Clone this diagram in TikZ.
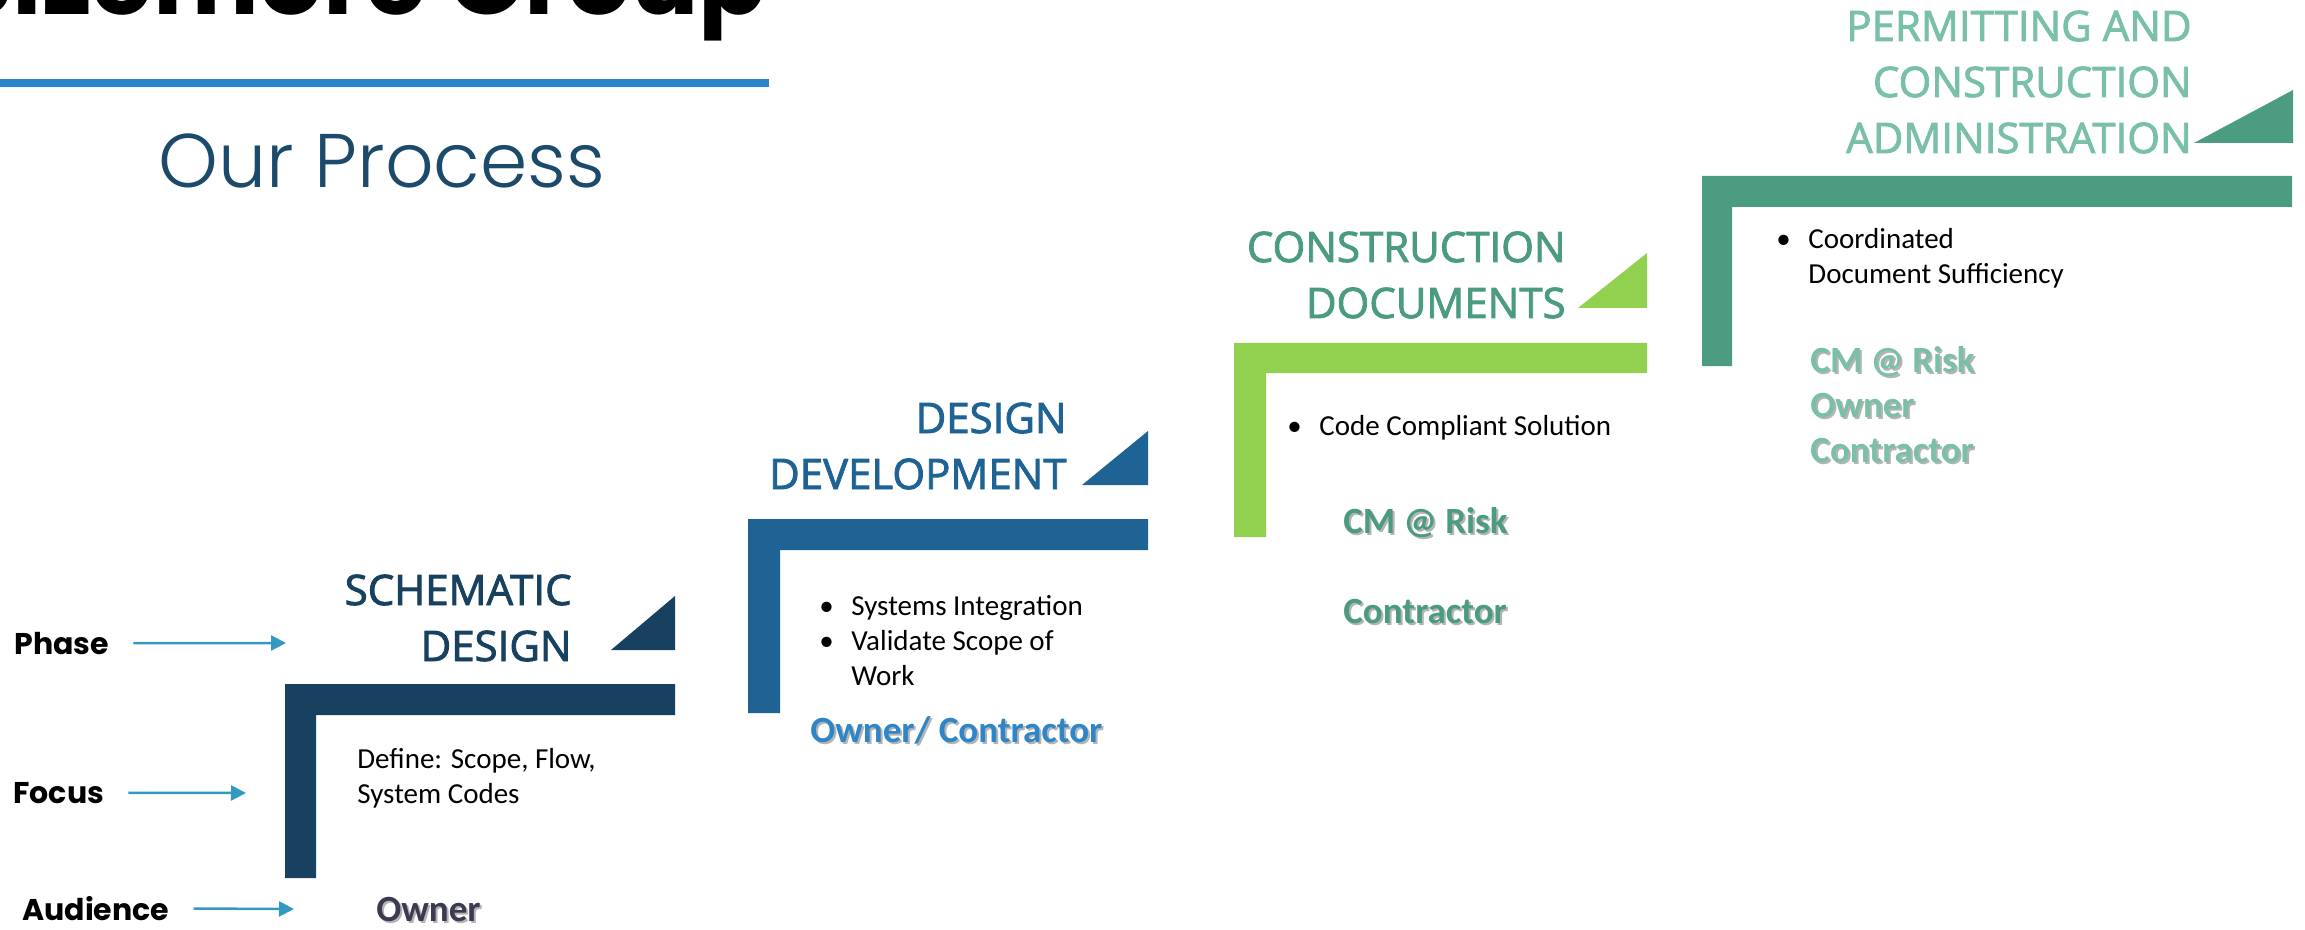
\documentclass[tikz,border=0pt]{standalone}
\usepackage{fontspec}
\setmainfont{Carlito}
\newfontfamily\headfont{Open Sans}[FakeBold=2]
\newfontfamily\popfont{Poppins}
\newfontfamily\poplight{Poppins Light}
\usepackage{tikz}
\usetikzlibrary{arrows.meta}
\definecolor{navy}{HTML}{17415F}
\definecolor{devblue}{HTML}{1F6394}
\definecolor{cdgreen}{HTML}{92D050}
\definecolor{cdtext}{HTML}{4A9B7F}
\definecolor{pcateal}{HTML}{4B9C80}
\definecolor{pcatext}{HTML}{79C0A6}
\definecolor{arrowblue}{HTML}{3399C3}
\definecolor{ownerblue}{HTML}{2E86C8}
\definecolor{ownergray}{HTML}{3A3A50}
\definecolor{lineblue}{HTML}{2A86C8}
\definecolor{procblue}{HTML}{1B4A6B}
\definecolor{shadowgray}{HTML}{B4B4B4}
\newcommand{\shadowed}[2]{\rlap{\kern1pt\raisebox{-1pt}{\textcolor{shadowgray}{#2}}}\textcolor{#1}{#2}}

\begin{document}
\begin{tikzpicture}[x=0.5pt,y=0.5pt,yscale=-1,xscale=1,
    lbl/.style={font=\popfont\bfseries\fontsize{15}{18}\selectfont,inner sep=0pt,anchor=base west},
    heading/.style={font=\headfont\fontsize{21}{28}\selectfont,inner sep=0pt,anchor=base east},
    body/.style={font=\fontsize{14.5}{17.5}\selectfont,inner sep=0pt,anchor=base west},
    who/.style={font=\bfseries\fontsize{18.5}{22.5}\selectfont,inner sep=0pt,anchor=base west},
    arr/.style={draw=arrowblue,line width=1.25pt,shorten <=12pt,-{Triangle[length=7.5pt,width=7.5pt]}}]
        \useasboundingbox (0,0) rectangle (2305,930);

        % Text Node
        \node (title) [font=\popfont\bfseries\fontsize{50}{60}\selectfont,inner sep=0pt,anchor=base east] at (767,15) {Sizemore Group};
        %Shape: Rectangle
        \fill[lineblue] (0,79) rectangle (769,87);
        % Text Node
        \node (process) [font=\poplight\fontsize{38}{44}\selectfont,text=procblue,inner sep=0pt,anchor=base west] at (158,188) {Our Process};

        %Shape: Step 1
        \fill[navy] (285,684) -- (675,684) -- (675,715) -- (316,715) -- (316,878) -- (285,878) -- cycle;
        \fill[navy] (611,650) -- (675,650) -- (675,596) -- cycle;
        % Text Node
        \node (schem) [heading,text=navy] at (572,605) {\begin{tabular}[t]{@{}r@{}}SCHEMATIC\\DESIGN\end{tabular}};
        \node (schemfocus) [body] at (357,768) {\begin{tabular}[t]{@{}l@{}}Define: Scope, Flow,\\System Codes\end{tabular}};
        \node (schemwho) [who] at (376,921) {\shadowed{ownergray}{Owner}};

        %Shape: Step 2
        \fill[devblue] (748,519) -- (1148,519) -- (1148,550) -- (780,550) -- (780,713) -- (748,713) -- cycle;
        \fill[devblue] (1082,485) -- (1148,485) -- (1148,431) -- cycle;
        % Text Node
        \node (dev) [heading,text=devblue] at (1067,433) {\begin{tabular}[t]{@{}r@{}}DESIGN\\DEVELOPMENT\end{tabular}};
        \node (devfocus) [body] at (819,615) {\begin{tabular}[t]{@{}p{16pt}@{}l@{}}\textbullet & Systems Integration\\ \textbullet & Validate Scope of\\ & Work\end{tabular}};
        \node (devwho) [who] at (810,742) {\shadowed{ownerblue}{Owner/ Contractor}};

        %Shape: Step 3
        \fill[cdgreen] (1234,343) -- (1647,343) -- (1647,373) -- (1266,373) -- (1266,537) -- (1234,537) -- cycle;
        \fill[cdgreen] (1578,308) -- (1647,308) -- (1647,253) -- cycle;
        % Text Node
        \node (cd) [heading,text=cdtext] at (1566,262) {\begin{tabular}[t]{@{}r@{}}CONSTRUCTION\\DOCUMENTS\end{tabular}};
        \node (cdfocus) [body] at (1287,435) {\begin{tabular}[t]{@{}p{16pt}@{}l@{}}\textbullet & Code Compliant Solution\end{tabular}};
        \node (cdwhoa) [who] at (1343,533) {\shadowed{cdtext}{CM @ Risk}};
        \node (cdwhob) [who] at (1343,623) {\shadowed{cdtext}{Contractor}};

        %Shape: Step 4
        \fill[pcateal] (1702,176) -- (2292,176) -- (2292,207) -- (1732,207) -- (1732,366) -- (1702,366) -- cycle;
        \fill[pcateal] (2194,143) -- (2293,143) -- (2293,90) -- cycle;
        % Text Node
        \node (pca) [heading,text=pcatext] at (2192,41) {\begin{tabular}[t]{@{}r@{}}PERMITTING AND\\CONSTRUCTION\\ADMINISTRATION\end{tabular}};
        \node (pcafocus) [body] at (1776,249) {\begin{tabular}[t]{@{}p{16pt}@{}l@{}}\textbullet & Coordinated\\ & Document Sufficiency\end{tabular}};
        \node (pcawho) [who] at (1810,372) {\begin{tabular}[t]{@{}l@{}}\shadowed{pcatext}{CM @ Risk}\\\shadowed{pcatext}{Owner}\\\shadowed{pcatext}{Contractor}\end{tabular}};

        % Text Node
        \node (phase) [lbl] at (14,654) {Phase};
        \node (focus) [lbl] at (13,803) {Focus};
        \node (audience) [lbl] at (22,920) {Audience};
        \coordinate (phaseend) at (286,643);
        \coordinate (focusend) at (246,793);
        \coordinate (audend) at (294,909);
        %Straight Lines
        \draw[arr] (phase) -- (phaseend);
        \draw[arr] (focus) -- (focusend);
        \draw[arr] (audience) -- (audend);

\end{tikzpicture}
\end{document}
